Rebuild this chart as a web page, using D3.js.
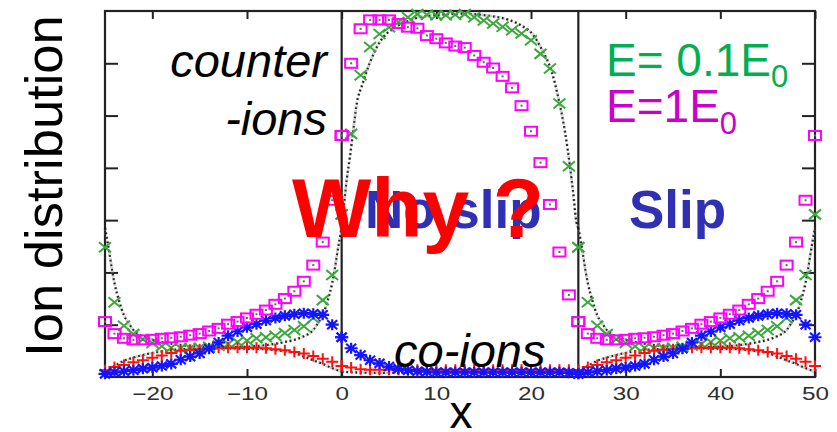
<!DOCTYPE html>
<html>
<head>
<meta charset="utf-8">
<script src="https://cdn.jsdelivr.net/npm/d3@7"></script>
<style>
  html, body { margin: 0; padding: 0; background: #fff; }
  svg { display: block; }
</style>
</head>
<body>
<svg id="chart" width="837" height="432"></svg>
<script>
// Lattice sites across one channel (channel-local coordinate, 0..25)
const sites = [0, 1, 2, 3, 4, 5, 6, 7, 8, 9, 10, 11, 12, 13, 14, 15, 16, 17, 18, 19, 20, 21, 22, 23, 24, 25];

// Slip channel: shown at x = -25..0 and again (periodic image) at x = 25..50
const slipOffsets = [-25, 25];
const slipCounterLowE = [2.48, 1.43, 0.98, 0.82, 0.72, 0.65, 0.59, 0.56, 0.55, 0.55, 0.56, 0.58, 0.60,
                         0.63, 0.67, 0.70, 0.74, 0.76, 0.79, 0.84, 0.90, 0.97, 1.13, 1.47, 1.95, 3.11];
const slipCounterHighE = [1.06, 0.83, 0.74, 0.71, 0.71, 0.72, 0.74, 0.75, 0.77, 0.80, 0.83, 0.88, 0.93,
                          1.01, 1.06, 1.13, 1.20, 1.28, 1.39, 1.50, 1.64, 1.83, 2.14, 2.58, 3.38, 4.62];
const slipCoLowE = [0.13, 0.19, 0.23, 0.28, 0.32, 0.37, 0.41, 0.46, 0.50, 0.52, 0.53, 0.55, 0.56,
                    0.56, 0.56, 0.56, 0.56, 0.55, 0.53, 0.51, 0.48, 0.45, 0.40, 0.35, 0.29, 0.21];
const slipCoHighE = [0.06, 0.09, 0.11, 0.13, 0.16, 0.18, 0.21, 0.25, 0.33, 0.39, 0.45, 0.54, 0.66,
                     0.79, 0.87, 0.95, 1.01, 1.08, 1.13, 1.17, 1.20, 1.22, 1.21, 1.19, 1.00, 0.76];

// No-slip channel: x = 0..25
const noslipCounterLowE = [3.11, 4.65, 5.77, 6.31, 6.56, 6.69, 6.79, 6.88, 6.94, 6.93, 6.92, 6.92, 6.93,
                           6.94, 6.88, 6.82, 6.76, 6.70, 6.63, 6.57, 6.44, 6.18, 5.90, 5.23, 4.03, 2.48];
const noslipCounterHighE = [4.62, 6.00, 6.66, 6.83, 6.83, 6.83, 6.76, 6.69, 6.67, 6.53, 6.47, 6.39, 6.33,
                            6.30, 6.15, 6.02, 5.91, 5.75, 5.53, 5.19, 4.70, 4.10, 3.30, 2.39, 1.57, 1.06];
const noslipCoLowE = [0.21, 0.18, 0.15, 0.14, 0.14, 0.14, 0.14, 0.14, 0.14, 0.14, 0.14, 0.14, 0.14,
                      0.14, 0.14, 0.14, 0.14, 0.14, 0.14, 0.14, 0.14, 0.14, 0.14, 0.14, 0.14, 0.13];
const noslipCoHighE = [0.76, 0.55, 0.42, 0.32, 0.26, 0.20, 0.16, 0.13, 0.11, 0.10, 0.09, 0.09, 0.09,
                       0.09, 0.09, 0.09, 0.09, 0.09, 0.09, 0.09, 0.09, 0.09, 0.09, 0.09, 0.08, 0.06];

// Equilibrium (theory) profiles, dotted
const slipTheoryCounterX = [0, 0.25, 0.5, 0.75, 1, 1.5, 2, 2.5, 3, 4, 5, 6, 8, 10, 12.5,
                            15, 17, 19, 20, 21, 22, 22.5, 23, 23.5, 24, 24.25, 24.5, 24.75, 25];
const slipTheoryCounter = [2.85, 2.60, 2.33, 2.04, 1.80, 1.45, 1.18, 1.03, 0.90, 0.78, 0.71, 0.67, 0.61, 0.58, 0.57,
                           0.58, 0.61, 0.67, 0.71, 0.78, 0.90, 1.03, 1.18, 1.45, 1.80, 2.04, 2.33, 2.60, 2.85];
const slipTheoryCoX = [0, 1, 2, 3, 4, 5, 6, 8, 10, 12.5, 15, 17, 19, 20, 21, 22, 23, 24, 25];
const slipTheoryCo = [0.10, 0.21, 0.31, 0.37, 0.42, 0.46, 0.49, 0.53, 0.54, 0.55, 0.54, 0.53, 0.49, 0.46, 0.39, 0.32, 0.25, 0.17, 0.10];
const noslipTheoryCounterX = [0, 0.3, 0.55, 0.85, 1.2, 1.55, 2.25, 3, 4, 5.4, 6.8, 8.2, 10, 12.5,
                              15.5, 17.5, 19, 20.2, 21.1, 22.2, 22.9, 23.6, 24.1, 24.45, 24.8, 25];
const noslipTheoryCounter = [2.85, 3.38, 3.80, 4.18, 4.68, 5.18, 5.63, 6.02, 6.40, 6.66, 6.79, 6.88, 6.92, 6.95,
                             6.91, 6.84, 6.72, 6.55, 6.28, 5.83, 5.33, 4.68, 4.05, 3.53, 2.96, 2.85];
const noslipTheoryCoX = [0, 3, 22, 25];
const noslipTheoryCo = [0.10, 0.08, 0.08, 0.10];

const xTicks = [-20, -10, 0, 10, 20, 30, 40, 50];
const yTicks = [1, 2, 3, 4, 5, 6];
const walls = [0, 25];

const svg = d3.select("#chart");
const FONT = "'Liberation Sans', Arial, Helvetica, sans-serif";

const x = d3.scaleLinear().domain([-25, 50]).range([105, 815]);
const y = d3.scaleLinear().domain([0, 7]).range([377, 11]);

// ---- axes: inward ticks on all four sides ----
const axisB = svg.append("g").attr("transform", `translate(0,${y(0)})`)
  .call(d3.axisBottom(x).tickValues(xTicks).tickSizeInner(-8).tickSizeOuter(0).tickPadding(10));
axisB.selectAll("text")
  .attr("font-family", FONT).attr("font-size", 18).attr("fill", "#2e2e2e")
  .attr("transform", "scale(1.35,1)");
const axisT = svg.append("g").attr("transform", `translate(0,${y(7)})`)
  .call(d3.axisTop(x).tickValues(xTicks).tickSizeInner(-8).tickSizeOuter(0).tickFormat(""));
const axisL = svg.append("g").attr("transform", `translate(${x(-25)},0)`)
  .call(d3.axisLeft(y).tickValues(yTicks).tickSizeInner(-13).tickSizeOuter(0).tickFormat(""));
const axisR = svg.append("g").attr("transform", `translate(${x(50)},0)`)
  .call(d3.axisRight(y).tickValues(yTicks).tickSizeInner(-13).tickSizeOuter(0).tickFormat(""));
[axisB, axisT, axisL, axisR].forEach(g => {
  g.select(".domain").remove();
  g.selectAll("line").attr("stroke", "#222").attr("stroke-width", 2);
});

// frame and channel walls
svg.append("rect")
  .attr("x", x(-25)).attr("y", y(7))
  .attr("width", x(50) - x(-25)).attr("height", y(0) - y(7))
  .attr("fill", "none").attr("stroke", "#222").attr("stroke-width", 2.2);
svg.selectAll("line.wall").data(walls).join("line").attr("class", "wall")
  .attr("x1", d => x(d)).attr("x2", d => x(d))
  .attr("y1", y(7)).attr("y2", y(0))
  .attr("stroke", "#222").attr("stroke-width", 2.2);

// ---- theory curves (dotted, with a faint grey halo) ----
const line = d3.line().x(d => x(d[0])).y(d => y(d[1])).curve(d3.curveMonotoneX);
const theory = [];
slipOffsets.forEach(o => {
  theory.push(d3.zip(slipTheoryCounterX.map(s => s + o), slipTheoryCounter));
  theory.push(d3.zip(slipTheoryCoX.map(s => s + o), slipTheoryCo));
});
theory.push(d3.zip(noslipTheoryCounterX, noslipTheoryCounter));
theory.push(d3.zip(noslipTheoryCoX, noslipTheoryCo));
const theoryG = svg.append("g");
theoryG.selectAll("path.halo").data(theory).join("path").attr("class", "halo")
  .attr("d", line)
  .attr("fill", "none").attr("stroke", "#999").attr("stroke-opacity", 0.45)
  .attr("stroke-width", 3).attr("stroke-dasharray", "2.5 1.8");
theoryG.selectAll("path.core").data(theory).join("path").attr("class", "core")
  .attr("d", line)
  .attr("fill", "none").attr("stroke", "#111").attr("stroke-opacity", 0.9)
  .attr("stroke-width", 2.2).attr("stroke-dasharray", "1.8 2.8");

// ---- simulation markers ----
const shapes = {
  plus: "M-6,0H6M0,-5.5V5.5",
  cross: "M-6,-5L6,5M-6,5L6,-5",
  star: "M-6.5,0H6.5M0,-5.5V5.5M-5,-4.5L5,4.5M-5,4.5L5,-4.5"
};
function points(offset, vals) {
  return sites.map((s, i) => [s + offset, vals[i]]);
}
function strokeMarks(data, shape, color, width) {
  svg.append("g").selectAll("path").data(data).join("path")
    .attr("transform", d => `translate(${x(d[0])},${y(d[1])})`)
    .attr("d", shapes[shape])
    .attr("fill", "none").attr("stroke", color).attr("stroke-width", width);
}
function squareMarks(data, color) {
  const g = svg.append("g").selectAll("g").data(data).join("g")
    .attr("transform", d => `translate(${x(d[0])},${y(d[1])})`);
  g.append("rect").attr("x", -6).attr("y", -4.5).attr("width", 12).attr("height", 9)
    .attr("fill", "none").attr("stroke", color).attr("stroke-width", 2);
  g.append("rect").attr("x", -1).attr("y", -1).attr("width", 2).attr("height", 2)
    .attr("fill", "#666");
}

const greenData = [], redData = [], blueData = [], magentaData = [];
slipOffsets.forEach(o => {
  greenData.push(...points(o, slipCounterLowE));
  redData.push(...points(o, slipCoLowE));
  blueData.push(...points(o, slipCoHighE));
  magentaData.push(...points(o, slipCounterHighE));
});
greenData.push(...points(0, noslipCounterLowE));
redData.push(...points(0, noslipCoLowE));
blueData.push(...points(0, noslipCoHighE));
magentaData.push(...points(0, noslipCounterHighE));

strokeMarks(greenData, "cross", "#3aa83a", 2);
strokeMarks(redData, "plus", "#ff1010", 2);
strokeMarks(blueData, "star", "#1414ff", 2.2);
squareMarks(magentaData, "#ff00ff");

// ---- annotations ----
function label(txt, px, py, opts) {
  return svg.append("text").attr("x", px).attr("y", py)
    .attr("font-family", FONT).attr("font-size", opts.size)
    .attr("fill", opts.color || "#000")
    .attr("font-style", opts.italic ? "italic" : "normal")
    .attr("font-weight", opts.bold ? "bold" : "normal")
    .attr("text-anchor", opts.anchor || "start")
    .text(txt);
}
label("counter", 327, 77, { size: 47, italic: true, anchor: "end" });
label("-ions", 327, 135, { size: 47, italic: true, anchor: "end" });
label("co-ions", 394, 367, { size: 47, italic: true });

const e1 = label("E= 0.1E", 606, 76, { size: 46, color: "#00b050" });
e1.append("tspan").attr("font-size", 31).attr("dy", 11).text("0");
const e2 = label("E=1E", 606, 122, { size: 46, color: "#cc00cc" });
e2.append("tspan").attr("font-size", 31).attr("dy", 12).text("0");

label("No slip", 365, 228, { size: 53, bold: true, color: "#3030b4" });
label("Slip", 629, 228, { size: 53, bold: true, color: "#3030b4" });
label("Why ?", 292, 237, { size: 84, bold: true, color: "#ff0000" });

// axis titles
svg.append("text")
  .attr("transform", "translate(62,186) rotate(-90)")
  .attr("font-family", FONT).attr("font-size", 52.5).attr("text-anchor", "middle")
  .attr("fill", "#000").text("Ion distribution");
label("x", 461, 428, { size: 46, anchor: "middle" });
</script>
</body>
</html>
